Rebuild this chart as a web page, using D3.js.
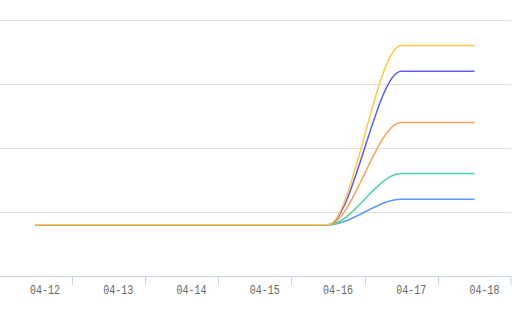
<!DOCTYPE html>
<html>
<head>
<meta charset="utf-8">
<script src="https://cdn.jsdelivr.net/npm/d3@7"></script>
<style>
  html, body { margin: 0; padding: 0; background: #fff; }
  svg { display: block; }
</style>
</head>
<body>
<svg id="chart" width="532" height="322"></svg>
<script>
const categories = ["04-12", "04-13", "04-14", "04-15", "04-16", "04-17", "04-18"];
const yTicks = [50, 100, 150, 200];
const seriesNames = ["Series E", "Series D", "Series C", "Series B", "Series A"];
const seriesColors = ["#5b9af5", "#4fd1a5", "#f9a15a", "#5a5ef0", "#fbc94b"];
const seriesE = [40, 40, 40, 40, 40, 60, 60];
const seriesD = [40, 40, 40, 40, 40, 80, 80];
const seriesC = [40, 40, 40, 40, 40, 120, 120];
const seriesB = [40, 40, 40, 40, 40, 160, 160];
const seriesA = [40, 40, 40, 40, 40, 180, 180];
const seriesValues = [seriesE, seriesD, seriesC, seriesB, seriesA];

const svg = d3.select("#chart");
const x = d3.scaleBand().domain(categories).range([-1.6, 511.2]);
const y = d3.scaleLinear().domain([0, 200]).range([276, 20]);
const cx = d => x(d) + x.bandwidth() / 2;

// grid lines
svg.append("g").selectAll("line").data(yTicks).join("line")
  .attr("x1", 0).attr("x2", 511.5)
  .attr("y1", d => Math.round(y(d)) + 0.5).attr("y2", d => Math.round(y(d)) + 0.5)
  .attr("stroke", "#e2e2e2").attr("stroke-width", 1);

// axis line
svg.append("line")
  .attr("x1", 0).attr("x2", 511.5)
  .attr("y1", 276.5).attr("y2", 276.5)
  .attr("stroke", "#c7d3ec").attr("stroke-width", 1);

// ticks at band boundaries
svg.append("g").selectAll("line").data(categories.slice(1).concat(["__end"])).join("line")
  .attr("x1", d => d === "__end" ? 511 : Math.round(x(d)) + 0.5)
  .attr("x2", d => d === "__end" ? 511 : Math.round(x(d)) + 0.5)
  .attr("y1", 276).attr("y2", 285)
  .attr("stroke", "#c7d3ec").attr("stroke-width", 1);

// labels
const axis = d3.axisBottom(x).tickSize(0).tickPadding(0);
const gx = svg.append("g").attr("transform", "translate(0,276)").call(axis);
gx.select(".domain").remove();
gx.selectAll("text")
  .attr("x", 10).attr("y", 18).attr("dy", 0)
  .attr("fill", "#666")
  .attr("font-family", "'Liberation Mono', 'DejaVu Sans Mono', monospace")
  .attr("font-size", 12)
  .attr("textLength", 30).attr("lengthAdjust", "spacingAndGlyphs");

// lines
const line = d3.line()
  .x((d, i) => cx(categories[i]))
  .y(d => y(d))
  .curve(d3.curveMonotoneX);

svg.append("g").selectAll("path").data(seriesValues).join("path")
  .attr("d", d => line(d))
  .attr("fill", "none")
  .attr("stroke", (d, i) => seriesColors[i])
  .attr("stroke-width", 1.5);
</script>
</body>
</html>
